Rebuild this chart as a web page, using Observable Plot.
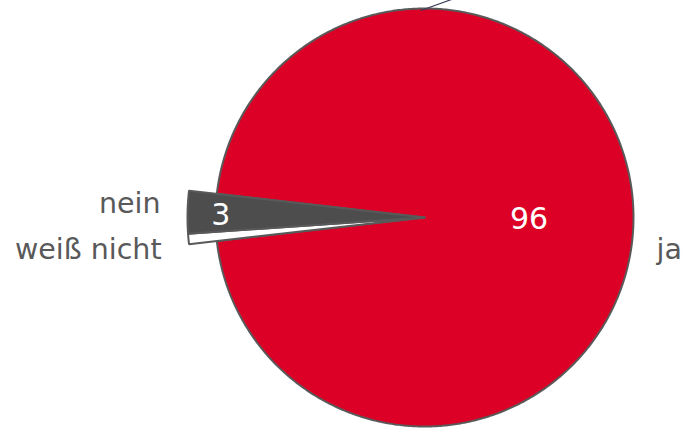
<!DOCTYPE html>
<html><head><meta charset="utf-8">
<script src="https://cdn.jsdelivr.net/npm/d3@7"></script>
<script src="https://cdn.jsdelivr.net/npm/@observablehq/plot@0.6"></script>
<style>
body{margin:0;background:#fff;}
#chart{width:687px;height:428px;overflow:hidden;}
svg{font-family:"DejaVu Sans",Verdana,sans-serif;}
</style>
</head><body><div id="chart"></div>
<script>
// ---- data ----
const categories = ["ja", "nein", "weiß nicht"];
const values = [96.4, 2.9, 0.7];
const valueLabels = ["96", "3", ""];

// ---- layout (drawing only) ----
const W = 687, H = 428;
const cx = 424, cy = 217, R = 209, Rexp = 237;
const startDeg = 186.5;               // screen angle (clockwise from +x) where "ja" begins
const drawOrder = ["ja", "weiß nicht", "nein"]; // clockwise order
const fills = {"ja": "#dd0026", "nein": "#4d4d4d", "weiß nicht": "#ffffff"};
const outer = {"ja": R, "nein": Rexp, "weiß nicht": Rexp};

const total = d3.sum(values);
const rad = d => d * Math.PI / 180;
let a = startDeg;
const slices = drawOrder.map(cat => {
  const i = categories.indexOf(cat);
  const span = values[i] / total * 360;
  const s = {cat, value: values[i], label: valueLabels[i], a0: a, a1: a + span, r: outer[cat]};
  a += span;
  return s;
});

function slicePoints(s) {
  const pts = [{x: 0, y: 0}];
  const n = Math.max(2, Math.ceil((s.a1 - s.a0) / 0.5));
  for (let k = 0; k <= n; k++) {
    const t = rad(s.a0 + (s.a1 - s.a0) * k / n);
    pts.push({x: s.r * Math.cos(t), y: s.r * Math.sin(t)});
  }
  pts.push({x: 0, y: 0});
  return pts.map(p => ({...p, cat: s.cat}));
}

const mid = s => rad((s.a0 + s.a1) / 2);
const byCat = Object.fromEntries(slices.map(s => [s.cat, s]));

// value labels inside slices
const valueText = slices.filter(s => s.label).map(s => {
  const f = s.cat === "ja" ? 0.5 : 0.86;
  return {x: f * s.r * Math.cos(mid(s)), y: f * s.r * Math.sin(mid(s)) + 2, text: s.label};
});

// category labels outside
const catLayout = [
  {cat: "nein", anchor: "end", rr: 264, dy: -8},
  {cat: "weiß nicht", anchor: "end", rr: 264, dy: 8},
  {cat: "ja", anchor: "start", rr: 232, dy: 32}
];
const catText = catLayout.map(o => {
  const s = byCat[o.cat];
  const side = o.anchor === "end" ? -1 : 1;
  return {x: side * Math.abs(o.rr * Math.cos(mid(s))), y: o.rr * Math.sin(mid(s)) + o.dy, text: o.cat, anchor: o.anchor};
});

// leader line at top rim
const lt = rad(269.0);
const leader = [{x1: R * Math.cos(lt), y1: R * Math.sin(lt) + 2, x2: R * Math.cos(lt) + 36, y2: R * Math.sin(lt) - 11}];

const marks = slices.map(s =>
  Plot.line(slicePoints(s), {x: "x", y: "y", fill: fills[s.cat], stroke: "#595959", strokeWidth: 2, strokeLinejoin: "miter", curve: "linear"})
);

const chart = Plot.plot({
  width: W, height: H,
  margin: 0,
  x: {type: "linear", domain: [-cx, W - cx], range: [0, W], axis: null},
  y: {type: "linear", domain: [-cy, H - cy], range: [0, H], axis: null},
  style: {fontFamily: "'DejaVu Sans', Verdana, sans-serif", background: "#fff"},
  marks: [
    ...marks,
    Plot.link(leader, {x1: "x1", y1: "y1", x2: "x2", y2: "y2", stroke: "#3c3f5a", strokeWidth: 1.2}),
    Plot.text(valueText, {x: "x", y: "y", text: "text", fill: "#ffffff", fontSize: 30, textAnchor: "middle", lineAnchor: "middle"}),
    Plot.text(catText.filter(d => d.anchor === "end"), {x: "x", y: "y", text: "text", fill: "#595959", fontSize: 28.5, textAnchor: "end", lineAnchor: "middle"}),
    Plot.text(catText.filter(d => d.anchor === "start"), {x: "x", y: "y", text: "text", fill: "#595959", fontSize: 28.5, textAnchor: "start", lineAnchor: "middle"})
  ]
});
document.getElementById("chart").append(chart);
</script>
</body></html>
